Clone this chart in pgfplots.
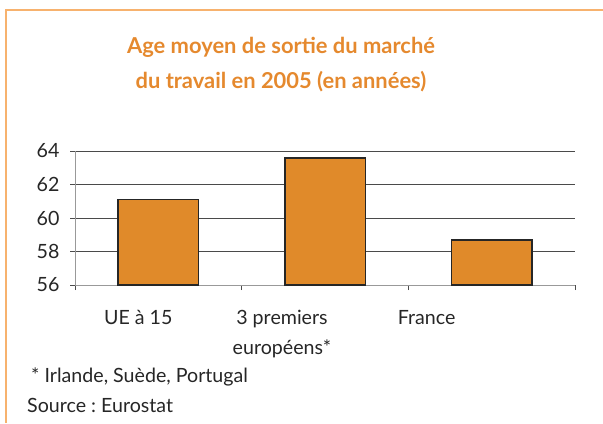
\documentclass[border=0pt]{standalone}
\usepackage{fontspec}
\setmainfont{Lato}
\usepackage{pgfplots}
\pgfplotsset{compat=1.18}
\definecolor{barorange}{HTML}{E08A2A}
\definecolor{titleorange}{HTML}{E5892E}
\definecolor{frameorange}{HTML}{F7B26E}
\definecolor{gridc}{HTML}{4A4A4A}
\frenchspacing
\begin{document}
\begin{tikzpicture}[x=1bp,y=1bp]
\path[use as bounding box] (0,0) rectangle (603,423);
\draw[frameorange, line width=1.5bp] (6,0) -- (6,413) -- (603,413);
\node[anchor=base, inner sep=0, text=titleorange, font=\fontsize{22}{35}\selectfont\bfseries] at (281,370) {Age moyen de sortie du marché};
\node[anchor=base, inner sep=0, text=titleorange, font=\fontsize{22}{35}\selectfont\bfseries] at (281,335) {du travail en 2005 (en années)};
\begin{axis}[
  at={(75bp,138bp)}, anchor=south west,
  scale only axis, width=500bp, height=134bp,
  xmin=-0.5, xmax=2.5, ymin=56, ymax=64,
  ytick={56,58,60,62,64},
  xtick={-0.5,0.5,1.5,2.5},
  x tick label as interval,
  xticklabels={
    {\begin{tabular}{@{}c@{}}UE à 15\end{tabular}\kern40bp},
    {\begin{tabular}{@{}c@{}}3 premiers\\[3bp]européens*\end{tabular}\kern86bp},
    {\begin{tabular}{@{}c@{}}France\end{tabular}\kern130bp}},
  axis lines*=left,
  axis line style={draw=gray!80, line width=1bp},
  tick align=outside,
  major tick length=5bp,
  tick style={draw=gray!60!black, line width=1bp},
  ymajorgrids,
  grid style={draw=gridc, line width=1bp},
  /pgf/number format/assume math mode=true,
  tick label style={font=\fontsize{19.7}{28}\selectfont, text=black!85},
  xticklabel style={yshift=-11bp},
  yticklabel style={xshift=-7bp},
  ybar, bar width=80.6bp,
]
\addplot[fill=barorange, draw=black!85, line width=1.6bp] coordinates {(0,61.1) (1,63.6) (2,58.7)};
\end{axis}
\node[anchor=base west, inner sep=0, font=\fontsize{19.7}{28}\selectfont, text=black!85] at (31,41) {* Irlande, Suède, Portugal};
\node[anchor=base west, inner sep=0, font=\fontsize{19.7}{28}\selectfont, text=black!85] at (27,11) {Source : Eurostat};
\end{tikzpicture}
\end{document}
